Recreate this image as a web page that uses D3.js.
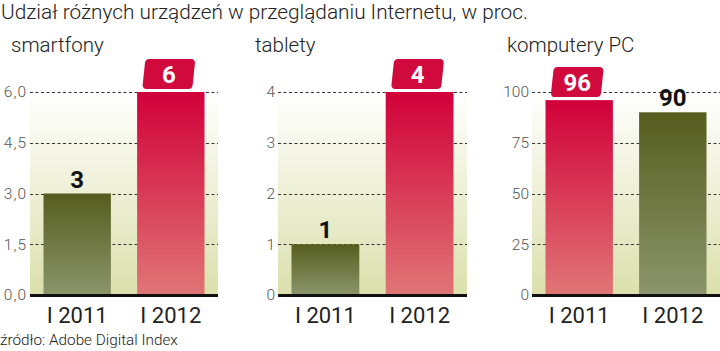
<!DOCTYPE html>
<html><head><meta charset="utf-8">
<script src="https://cdn.jsdelivr.net/npm/d3@7"></script>
<style>
html,body{margin:0;padding:0;background:#fff;}
svg{display:block;}
</style></head>
<body>
<script>
const titleText = "Udział różnych urządzeń w przeglądaniu Internetu, w proc.";
const sourceText = "źródło: Adobe Digital Index";
const categories = ["I 2011", "I 2012"];
const panelTitles = ["smartfony", "tablety", "komputery PC"];
const smartfonyValues = [3, 6];
const tabletyValues = [1, 4];
const pcValues = [96, 90];
const smartfonyTicks = [0, 1.5, 3, 4.5, 6];
const tabletyTicks = [0, 1, 2, 3, 4];
const pcTicks = [0, 25, 50, 75, 100];

const W = 720, H = 351;
const svg = d3.select("body").append("svg").attr("width", W).attr("height", H);
const defs = svg.append("defs");

function grad(id, c1, c2) {
  const g = defs.append("linearGradient").attr("id", id).attr("x1", 0).attr("y1", 0).attr("x2", 0).attr("y2", 1);
  g.append("stop").attr("offset", "0%").attr("stop-color", c1);
  g.append("stop").attr("offset", "100%").attr("stop-color", c2);
}
grad("bg", "#ffffff", "#dbe0ac");
grad("red", "#d1003a", "#e07676");
grad("olive", "#555e1e", "#8c956b");

const lightFont = "Roboto, 'Open Sans', sans-serif";
const boldFont = "Roboto, 'DejaVu Sans Condensed', sans-serif";

svg.append("text").attr("x", 1).attr("y", 19).text(titleText)
  .attr("font-family", lightFont).attr("font-weight", 300).attr("font-size", 20.8).attr("fill", "#222");
svg.append("text").attr("x", 0).attr("y", 345).text(sourceText)
  .attr("font-family", lightFont).attr("font-weight", 300).attr("font-size", 15.3).attr("fill", "#222");

const panels = [
  {title: panelTitles[0], titleX: 11, values: smartfonyValues, ticks: smartfonyTicks, fmt: d3.format(".1f"), comma: true, left: 30, right: 218},
  {title: panelTitles[1], titleX: 255, values: tabletyValues, ticks: tabletyTicks, fmt: d3.format("d"), comma: false, left: 278, right: 467},
  {title: panelTitles[2], titleX: 507, values: pcValues, ticks: pcTicks, fmt: d3.format("d"), comma: false, left: 532, right: 720}
];

const yTop = 92, yBot = 295;

panels.forEach(p => {
  const g = svg.append("g");
  g.append("text").attr("x", p.titleX).attr("y", 52).text(p.title)
    .attr("font-family", lightFont).attr("font-weight", 300).attr("font-size", 20.5).attr("fill", "#222");

  const y = d3.scaleLinear().domain([0, p.ticks[p.ticks.length - 1]]).range([yBot, yTop]);
  const x = d3.scaleBand().domain(categories).range([p.left + 13.5, p.right - 13.5]).paddingInner(0.28).paddingOuter(0);

  g.append("rect").attr("x", p.left).attr("y", yTop).attr("width", p.right - p.left).attr("height", yBot - yTop).attr("fill", "url(#bg)");

  g.selectAll("line.grid").data(p.ticks.filter(t => t > 0)).join("line")
    .attr("x1", p.left).attr("x2", p.right).attr("y1", d => Math.round(y(d)) + 0.5).attr("y2", d => Math.round(y(d)) + 0.5)
    .attr("stroke", "#333").attr("stroke-width", 1.2).attr("stroke-dasharray", "3,2.5");

  const axis = d3.axisLeft(y).tickValues(p.ticks).tickSize(0).tickPadding(3)
    .tickFormat(d => { const s = p.fmt(d); return p.comma ? s.replace(".", ",") : s; });
  const ag = g.append("g").attr("transform", `translate(${p.left},0)`).call(axis);
  ag.select(".domain").remove();
  ag.selectAll("text").attr("font-family", lightFont).attr("font-weight", 300).attr("font-size", 15.5)
    .attr("letter-spacing", p.comma ? 1 : 0).attr("fill", "#555");

  const maxV = d3.max(p.values);
  const data = categories.map((c, i) => ({c, v: p.values[i], hi: p.values[i] === maxV}));

  g.selectAll("rect.bar").data(data).join("rect")
    .attr("x", d => x(d.c)).attr("width", x.bandwidth())
    .attr("y", d => y(d.v)).attr("height", d => yBot - y(d.v))
    .attr("fill", d => d.hi ? "url(#red)" : "url(#olive)");

  g.append("line").attr("x1", p.left).attr("x2", p.right).attr("y1", yBot + 0.5).attr("y2", yBot + 0.5)
    .attr("stroke", "#111").attr("stroke-width", 3);

  g.selectAll("text.cat").data(data).join("text")
    .attr("x", d => x(d.c) + x.bandwidth() / 2).attr("y", 323).attr("text-anchor", "middle")
    .text(d => d.c).attr("font-family", lightFont).attr("font-weight", 400).attr("font-size", 22).attr("fill", "#222");

  data.forEach(d => {
    const cx = x(d.c) + x.bandwidth() / 2;
    const top = y(d.v);
    if (d.hi) {
      const bw = 50, bh = 30, by = top - 3 - bh;
      const lg = g.append("g").attr("transform", `translate(${cx - 2},${by + bh / 2}) skewX(-6)`);
      lg.append("rect").attr("x", -bw / 2).attr("y", -bh / 2).attr("width", bw).attr("height", bh)
        .attr("rx", 4).attr("fill", "#d00a3c");
      g.append("text").attr("x", cx - 2).attr("y", by + bh / 2 + 8.5).attr("text-anchor", "middle")
        .text(d.v).attr("font-family", boldFont).attr("font-weight", 700).attr("font-size", 24).attr("fill", "#fff");
    } else {
      g.append("text").attr("x", cx).attr("y", top - 6).attr("text-anchor", "middle")
        .text(d.v).attr("font-family", boldFont).attr("font-weight", 700).attr("font-size", 24).attr("fill", "#111");
    }
  });
});
</script>
</body></html>
